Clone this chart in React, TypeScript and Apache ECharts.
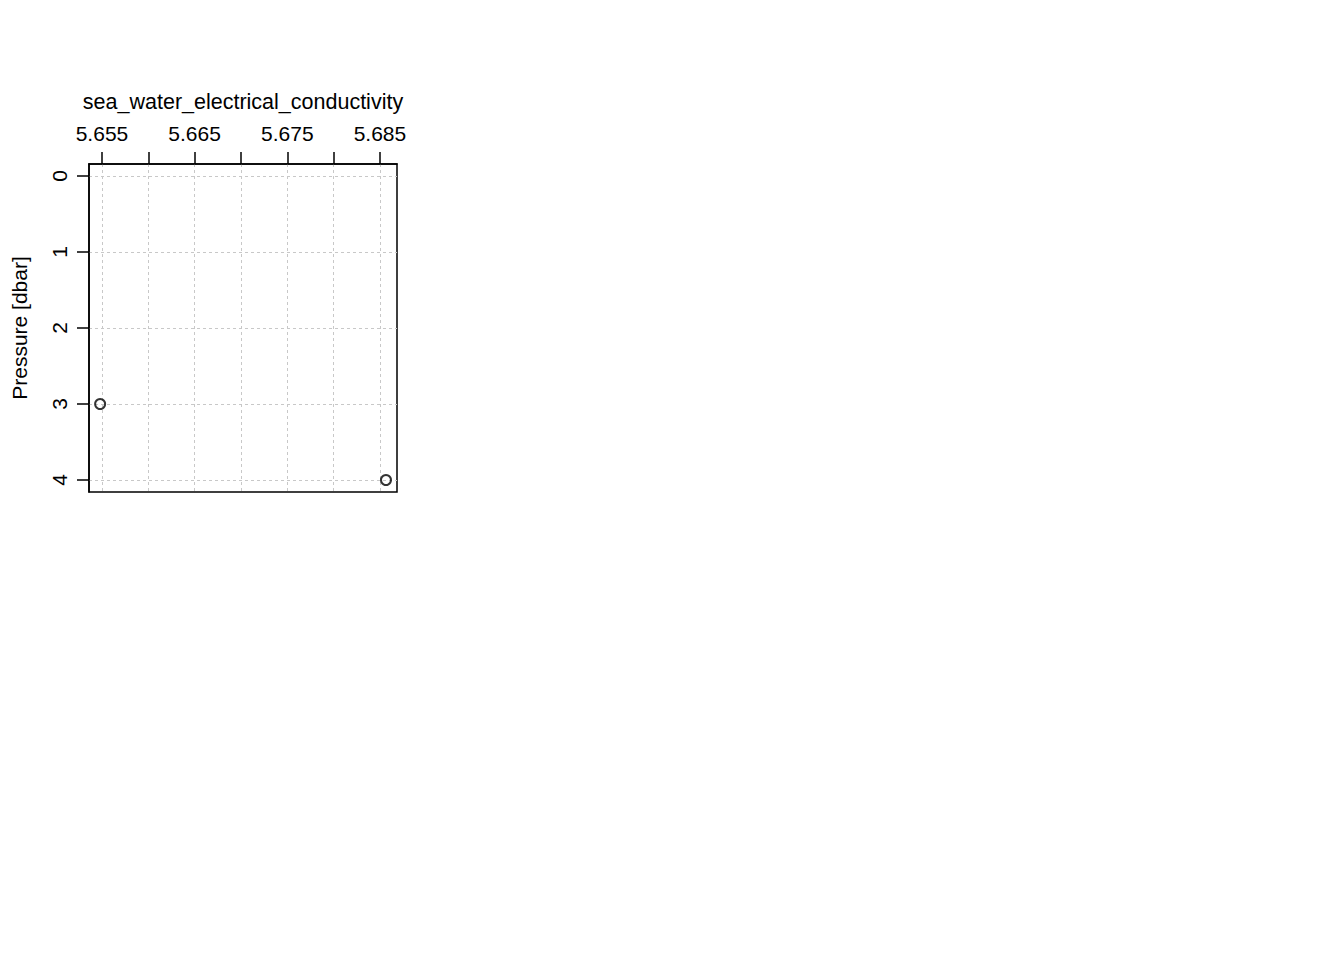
import React, { useEffect, useRef } from "react";
import * as echarts from "echarts";

const conductivity = [5.6548, 5.68565];
const pressure = [3, 4];
const xTicks = [5.655, 5.66, 5.665, 5.67, 5.675, 5.68, 5.685];
const xLabels = [5.655, 5.665, 5.675, 5.685];
const yTicks = [0, 1, 2, 3, 4];
const xName = "sea_water_electrical_conductivity";
const yName = "Pressure [dbar]";

const FONT = "'Liberation Sans', Arial, Helvetica, sans-serif";

export default function App() {
  const ref = useRef<HTMLDivElement>(null);
  useEffect(() => {
    if (!ref.current) return;
    const chart = echarts.init(ref.current, undefined, { renderer: "svg" });
    const gridLine = { show: true, lineStyle: { color: "#c8c8c8", type: [3, 3], width: 1 } };
    chart.setOption({
      animation: false,
      backgroundColor: "#ffffff",
      grid: {
        left: 89,
        top: 164,
        width: 308,
        height: 328,
        show: true,
        borderColor: "#000000",
        borderWidth: 1.5,
        backgroundColor: "transparent",
      },
      xAxis: {
        type: "value",
        position: "top",
        min: 5.6536,
        max: 5.68684,
        name: xName,
        nameLocation: "middle",
        nameGap: 51,
        nameTextStyle: { fontFamily: FONT, fontSize: 21.5, color: "#000" },
        axisLine: { show: true, onZero: false, lineStyle: { color: "#000", width: 1.5 } },
        axisTick: { show: true, inside: false, length: 12, customValues: xTicks, lineStyle: { color: "#000", width: 1.5 } },
        axisLabel: {
          show: true,
          customValues: xLabels,
          margin: 20,
          fontFamily: FONT,
          fontSize: 21,
          color: "#000",
          formatter: (v: number) => v.toFixed(3),
        },
        splitLine: gridLine,
      },
      yAxis: {
        type: "value",
        inverse: true,
        min: -0.158,
        max: 4.158,
        name: yName,
        nameLocation: "middle",
        nameGap: 59,
        nameTextStyle: { fontFamily: FONT, fontSize: 21, color: "#000" },
        axisLine: { show: true, onZero: false, lineStyle: { color: "#000", width: 1.5 } },
        axisTick: { show: true, inside: false, length: 12, customValues: yTicks, lineStyle: { color: "#000", width: 1.5 } },
        axisLabel: {
          show: true,
          customValues: yTicks,
          rotate: 90,
          margin: 19,
          fontFamily: FONT,
          fontSize: 21,
          color: "#000",
        },
        splitLine: gridLine,
      },
      series: [
        {
          type: "scatter",
          data: conductivity.map((c, i) => [c, pressure[i]]),
          symbol: "circle",
          symbolSize: 10,
          itemStyle: { color: "rgba(0,0,0,0)", borderColor: "#000", borderWidth: 2 },
        },
      ],
    });
    return () => chart.dispose();
  }, []);
  return (
    <div
      ref={ref}
      style={{ position: "absolute", left: 0, top: 0, width: 1344, height: 960 }}
    />
  );
}
